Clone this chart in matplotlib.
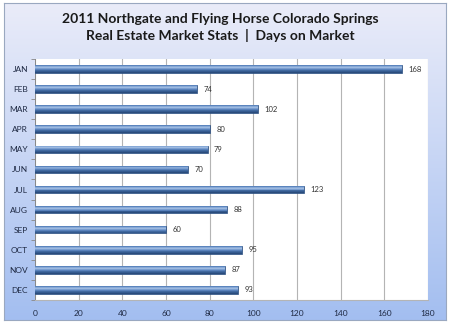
import numpy as np
import matplotlib
matplotlib.use("Agg")
import matplotlib.pyplot as plt

plt.rcParams["font.family"] = ["Lato", "DejaVu Sans"]

# days on market per month, 2011
months = ["JAN", "FEB", "MAR", "APR", "MAY", "JUN",
          "JUL", "AUG", "SEP", "OCT", "NOV", "DEC"]
days = [168, 74, 102, 80, 79, 70, 123, 88, 60, 95, 87, 93]
xticks = [0, 20, 40, 60, 80, 100, 120, 140, 160, 180]

title = ("2011 Northgate and Flying Horse Colorado Springs\n"
         "Real Estate Market Stats  |  Days on Market")

fig = plt.figure(figsize=(4.5, 3.26), dpi=100)
fig.patch.set_facecolor("white")

# blue gradient frame behind the chart
bg = fig.add_axes([0.008, 0.018, 0.982, 0.972])
top = np.array([234, 236, 249]) / 255
bot = np.array([163, 190, 240]) / 255
t = np.linspace(0, 1, 256)[:, None]
grad = top[None, None, :] * (1 - t[..., None]) + bot[None, None, :] * t[..., None]
grad = np.repeat(grad, 4, axis=1)
bg.imshow(grad, aspect="auto", extent=[0, 1, 0, 1])
bg.set_xticks([])
bg.set_yticks([])
for s in bg.spines.values():
    s.set_color("#9aa8c0")
    s.set_linewidth(0.8)
bg.set_zorder(0)

ax = fig.add_axes([0.078, 0.080, 0.873, 0.739])
ax.set_zorder(1)
ax.set_facecolor("white")

y = np.arange(len(months))
h = 0.38
ax.barh(y, days, height=h, color="#3f6ca8", edgecolor="#284a7a", linewidth=0.5, zorder=3)
# shaded strips from top to bottom of each bar for a cylinder look
shades = ["#5b84bd", "#86a8d6", "#9cb9e0", "#7a9ed0", "#5881bb",
          "#41699f", "#345a8f", "#2a4c7c"]
n = len(shades)
sh = h / n
for k, c in enumerate(shades):
    off = -h / 2 + sh * (k + 0.5)
    ax.barh(y + off, days, height=sh, color=c, linewidth=0, zorder=4)

for yi, v in zip(y, days):
    ax.text(v + 3, yi, str(v), va="center", ha="left", fontsize=5.5, color="#333333")

ax.set_xlim(0, 180)
ax.set_ylim(len(months) - 0.5, -0.5)
ax.set_xticks(xticks)
ax.set_xticklabels([str(v) for v in xticks])
ax.set_yticks(y)
ax.set_yticklabels(months)
ax.tick_params(axis="both", labelsize=6, colors="#1f2a44", length=2.5, width=0.6)
ax.tick_params(axis="x", length=0, pad=7)
ax.set_yticks(np.arange(len(months) + 1) - 0.5, minor=True)
ax.tick_params(axis="y", which="minor", length=3, width=0.6, color="#888888")
ax.tick_params(axis="y", which="major", length=0, pad=5)
ax.grid(axis="x", color="#b4b4b4", linewidth=0.8, zorder=0)
ax.set_axisbelow(True)
for s in ["top", "right"]:
    ax.spines[s].set_visible(False)
ax.spines["left"].set_color("#888888")
ax.spines["left"].set_linewidth(0.7)
ax.spines["bottom"].set_color("#b4b4b4")
ax.spines["bottom"].set_linewidth(0.8)

fig.text(0.49, 0.915, title, ha="center", va="center", fontsize=10,
         fontweight="bold", color="#1a1a1a", linespacing=1.35)

fig.savefig("out.png", dpi=100)
